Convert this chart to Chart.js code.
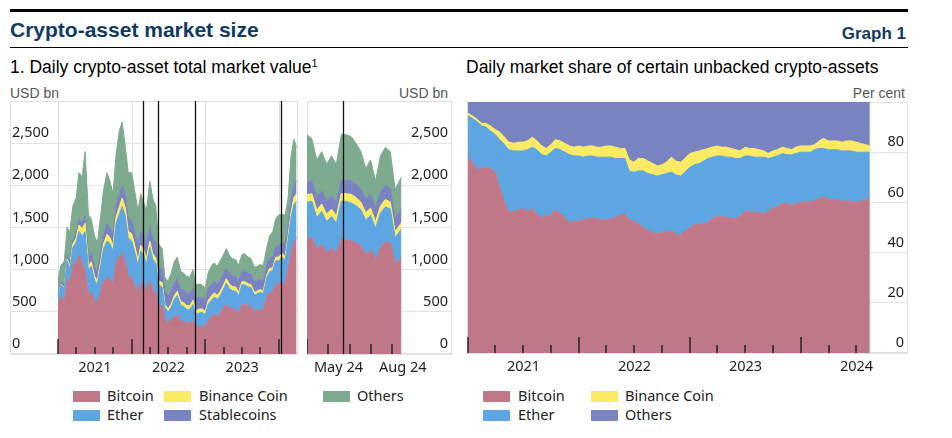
<!DOCTYPE html>
<html>
<head>
<meta charset="utf-8">
<title>Crypto-asset market size</title>
<script src="https://cdn.jsdelivr.net/npm/chart.js@4.4.3/dist/chart.umd.min.js"></script>
<style>
  body { margin: 0; background: #fff; }
  #page { position: relative; width: 952px; height: 438px; overflow: hidden; font-family: "Liberation Sans", Arial, sans-serif; }
  .t { position: absolute; white-space: nowrap; line-height: 1; }
  .rule { position: absolute; left: 10px; width: 898px; background: #000; }
  canvas { position: absolute; }
  .leg { position: absolute; font-family: "Noto Sans", sans-serif; font-size: 14.5px; color: #222; line-height: 1; white-space: nowrap; }
  .sw { position: absolute; width: 27px; height: 11px; }
</style>
</head>
<body>
<div id="page">
  <div class="rule" style="top:9px;height:3px"></div>
  <div class="t" style="left:10px;top:19px;font-size:21px;font-weight:bold;color:#103a63">Crypto-asset market size</div>
  <div class="t" style="right:46px;top:24.5px;font-size:17px;font-weight:bold;color:#103a63">Graph 1</div>
  <div class="rule" style="top:47px;height:1px"></div>
  <div class="t" style="left:10px;top:59px;font-size:17.5px">1. Daily crypto-asset total market value<span style="font-size:11px;position:relative;top:-6px">1</span></div>
  <div class="t" style="left:466px;top:59px;font-size:17.5px">Daily market share of certain unbacked crypto-assets</div>
  <div class="t" style="left:10px;top:86px;font-size:14px;color:#555">USD bn</div>
  <div class="t" style="right:504px;top:86px;font-size:14px;color:#555">USD bn</div>
  <div class="t" style="right:47px;top:86px;font-size:14px;color:#555">Per cent</div>
  <canvas id="cLeft" width="288" height="283" style="left:10px;top:101px"></canvas>
  <canvas id="cMid" width="145" height="283" style="left:307px;top:101px"></canvas>
  <canvas id="cRight" width="441" height="281" style="left:467px;top:102px"></canvas>
</div>
<script>
// ---- data : total market value, USD bn (semi-monthly readings) ----
const leftDates = [
  "2021-01-01","2021-01-15","2021-02-01","2021-02-15","2021-03-01","2021-03-15","2021-04-01","2021-04-15","2021-05-01","2021-05-15","2021-06-01","2021-06-15",
  "2021-07-01","2021-07-15","2021-08-01","2021-08-15","2021-09-01","2021-09-15","2021-10-01","2021-10-15","2021-11-01","2021-11-15","2021-12-01","2021-12-15",
  "2022-01-01","2022-01-15","2022-02-01","2022-02-15","2022-03-01","2022-03-15","2022-04-01","2022-04-15","2022-05-01","2022-05-15","2022-06-01","2022-06-15",
  "2022-07-01","2022-07-15","2022-08-01","2022-08-15","2022-09-01","2022-09-15","2022-10-01","2022-10-15","2022-11-01","2022-11-15","2022-12-01","2022-12-15",
  "2023-01-01","2023-01-15","2023-02-01","2023-02-15","2023-03-01","2023-03-15","2023-04-01","2023-04-15","2023-05-01","2023-05-15","2023-06-01","2023-06-15",
  "2023-07-01","2023-07-15","2023-08-01","2023-08-15","2023-09-01","2023-09-15","2023-10-01","2023-10-15","2023-11-01","2023-11-15","2023-12-01","2023-12-15",
  "2024-01-01","2024-01-15","2024-02-01","2024-02-15","2024-03-01","2024-03-15","2024-03-28"
];
const leftBitcoin = [
  600,680,630,900,850,1050,1100,1170,1080,1000,680,740,630,600,750,870,900,890,830,1090,1150,1200,1080,920,
  900,820,730,840,830,750,870,760,730,570,570,420,370,400,445,465,385,385,370,370,395,320,330,340,
  320,400,445,470,450,480,550,590,550,530,520,490,590,590,570,570,500,520,530,525,680,730,740,830,
  830,840,840,1020,1210,1320,1380
];
const leftEther = [
  85,140,155,205,165,210,225,285,320,450,310,300,245,225,305,375,440,420,390,450,510,550,550,450,
  440,400,325,380,350,315,395,365,340,245,225,130,130,150,205,230,190,180,160,155,190,150,155,155,
  145,190,195,205,200,205,220,250,225,220,225,200,230,230,225,220,200,195,200,190,220,245,250,275,
  275,305,275,330,410,450,430
];
const leftBinance = [
  6,7,8,20,35,40,50,75,85,100,55,55,45,45,55,65,80,70,70,80,90,100,100,85,
  85,80,60,70,62,62,73,67,63,50,52,37,35,40,45,50,45,45,45,44,53,42,47,40,
  40,48,50,49,47,53,49,52,51,49,48,38,38,38,37,35,33,33,33,32,35,38,34,39,
  47,47,46,53,62,85,90
];
const leftStable = [
  28,32,38,45,50,55,62,68,75,85,100,105,108,110,112,115,120,125,130,135,140,145,150,155,
  158,160,163,165,170,175,180,185,188,165,160,155,152,152,150,150,150,150,148,147,146,142,140,138,
  137,137,137,135,133,130,130,130,128,127,126,125,125,124,123,123,122,122,122,123,125,127,130,132,
  135,137,139,141,145,150,152
];
const leftOthers = [
  161,191,269,330,350,395,413,552,540,765,505,400,372,340,428,525,610,545,480,595,760,755,570,540,
  567,490,422,445,388,398,532,473,429,270,243,158,183,208,255,255,210,200,197,194,216,166,158,147,
  138,185,223,221,210,232,231,228,216,204,201,197,197,208,195,182,175,170,175,180,200,260,296,324,
  363,321,350,306,523,545,398
];
const leftEvents = ["2022-02-24","2022-05-09","2022-11-11","2024-01-10"];
const leftYearLines = ["2021-01-01","2022-01-01","2023-01-01","2024-01-01"];
const leftMajorTicks = ["2021-01-01","2022-01-01","2023-01-01","2024-01-01"];
const leftMinorTicks = ["2021-04-01","2021-07-01","2021-10-01","2022-04-01","2022-07-01","2022-10-01","2023-04-01","2023-07-01","2023-10-01"];
const leftLabelAt = [2021.5, 2022.5, 2023.5];
const leftLabels = ["2021","2022","2023"];

// ---- data : recent months, USD bn (weekly readings) ----
const midDates = [
  "2024-04-01","2024-04-08","2024-04-15","2024-04-22","2024-04-29","2024-05-06","2024-05-13","2024-05-20","2024-05-27","2024-06-03",
  "2024-06-10","2024-06-17","2024-06-24","2024-07-01","2024-07-08","2024-07-15","2024-07-22","2024-07-29","2024-08-05","2024-08-14"
];
const midBitcoin = [1370,1380,1250,1300,1200,1250,1200,1370,1350,1340,1320,1280,1180,1230,1120,1260,1330,1320,1070,1150];
const midEther   = [430,430,370,390,370,380,350,440,460,450,440,430,410,415,370,410,415,400,310,330];
const midBinance = [90,90,85,90,88,88,87,92,90,105,95,90,85,85,80,85,87,85,72,76];
const midStable  = [152,153,154,155,156,157,158,159,160,160,161,161,162,162,163,163,164,164,165,166];
const midOthers  = [558,497,441,465,436,475,455,539,540,525,484,439,363,408,317,432,454,431,333,378];
const midEvents = ["2024-05-23"];
const midMajorTicks = ["2024-04-01"];
const midMinorTicks = ["2024-05-01","2024-06-01","2024-07-01","2024-08-01"];
const midLabelDates = ["2024-05-16","2024-08-16"];
const midLabels = ["May 24","Aug 24"];

// ---- data : market share, per cent (semi-monthly readings) ----
const rightDates = leftDates.slice(0, 78).concat([
  "2024-04-01","2024-04-15","2024-05-01","2024-05-15","2024-06-01","2024-06-15","2024-07-01","2024-07-15","2024-08-01","2024-08-15"
]);
const rightBitcoin = [
  78,76,73,73.5,74,73.5,72,66,60,56,56.5,57,57.5,56.5,57.5,55.5,54,54.5,55,57,55.5,54,52,52.5,
  52.5,53,53.5,54,53.5,53,53,53.5,54,55,55.5,53,52.5,51.5,50,49,48,47.5,48,48.5,48.5,47.5,47,48.5,
  50,51,51.5,51.5,52,53.5,54.5,54.5,54,54,53.5,54.5,56.5,56.5,56,56,55.5,56.5,57.5,58.5,59.5,59.5,59,59.5,
  60,60.5,60,61,61.5,62,61.5,61,61,60.5,60.5,60.5,60,60.5,61,62
];
const rightEther = [
  16.5,17.5,19,17,16,15,15,19,23,25,24,23.5,23,24.5,24.5,25.5,25,24,25,24.5,25.5,26,27,26,
  26,25,25,24.5,24.5,25,25,24.5,23.5,22.5,22,19.5,19.5,21,22.5,22.5,23,23,23,23,23.5,23.5,23.5,23.5,
  24,24,24,25,25.5,24.5,24,24,24,24,24,23,22,22,22,22,22.5,21,20.5,20,20,19.5,20,20,
  20,19.5,20,20,20,19.5,19.5,20,20,20,20,20,20,19.5,19,18
];
const rightBinance = [
  1,1,1,1,1.5,2,2,3,3,3,3,3.5,3.5,3.5,4,3.5,3.5,3,3,3.5,3.5,3.5,3.5,3.5,
  4,4,4,4,4,4,4.5,4.5,4.5,4,4,4.5,4,5,5,5,4.5,4,4,4.5,6,5.5,5.5,5.5,
  5.5,5,5,4.5,4,4,4,3.5,4,3.5,3.5,3,3.5,3,3.5,3,2.5,2,2.5,2.5,2.5,2.5,2,2.5,
  2.5,2.5,2.5,2,3,4,3.5,3.5,3.5,3.5,4,4,4,3.5,3,2.5
];
const rightOthers = [
  4.5,5.5,7,8.5,8.5,9.5,11,12,14,16,16.5,16,16,15.5,14,15.5,17.5,18.5,17,15,15.5,16.5,17.5,18,
  17.5,18,17.5,17.5,18,18,17.5,17.5,18,18.5,18.5,23,24,22.5,22.5,23.5,24.5,25.5,25,24,22,23.5,24,22.5,
  20.5,20,19.5,19,18.5,18,17.5,18,18,18.5,19,19.5,18,18.5,18.5,19,19.5,20.5,19.5,19,18,18.5,19,18,
  17.5,17.5,17.5,17,15.5,14.5,15.5,15.5,15.5,16,15.5,15.5,16,16.5,17,17.5
];
const rightMajorTicks = ["2021-01-01","2022-01-01","2023-01-01","2024-01-01"];
const rightMinorTicks = ["2021-04-01","2021-07-01","2021-10-01","2022-04-01","2022-07-01","2022-10-01",
  "2023-04-01","2023-07-01","2023-10-01","2024-04-01","2024-07-01"];
const rightLabelAt = [2021.5, 2022.5, 2023.5, 2024.5];
const rightLabels = ["2021","2022","2023","2024"];

const leftNames = ["Bitcoin","Ether","Binance Coin","Stablecoins","Others"];
const rightNames = ["Bitcoin","Ether","Binance Coin","Others"];

// ---- styles ----
const C = { btc: "#c07889", eth: "#5ea6e2", bnb: "#faea64", stable: "#7a83c2", others: "#7eaa8f" };
const leftColors = [C.btc, C.eth, C.bnb, C.stable, C.others];
const rightColors = [C.btc, C.eth, C.bnb, C.stable];

function toYear(s) {
  const [y, m, d] = s.split("-").map(Number);
  const a = Date.UTC(y, 0, 1), b = Date.UTC(y + 1, 0, 1);
  return y + (Date.UTC(y, m - 1, d) - a) / (b - a);
}

Chart.defaults.font.family = "'Noto Sans', sans-serif";
Chart.defaults.font.size = 14.5;
Chart.defaults.color = "#1e1e1e";

// frame, year lines, inward tick marks and event lines
const marks = {
  id: "marks",
  beforeDatasetsDraw(chart, args, o) {
    const { ctx, chartArea: a, scales: { x } } = chart;
    ctx.save();
    ctx.strokeStyle = "#dedede";
    ctx.lineWidth = 1;
    for (const d of o.yearLines || []) {
      const px = Math.round(x.getPixelForValue(toYear(d))) + 0.5;
      ctx.beginPath(); ctx.moveTo(px, a.top); ctx.lineTo(px, a.bottom); ctx.stroke();
    }
    ctx.strokeRect(a.left + 0.5, a.top + 0.5, a.right - a.left - 1, a.bottom - a.top - 1);
    ctx.restore();
  },
  afterDatasetsDraw(chart, args, o) {
    const { ctx, chartArea: a, scales: { x } } = chart;
    ctx.save();
    ctx.strokeStyle = "#262626";
    ctx.lineWidth = 1.5;
    const tick = (d, len) => {
      const px = Math.round(x.getPixelForValue(toYear(d)));
      ctx.beginPath(); ctx.moveTo(px, a.bottom); ctx.lineTo(px, a.bottom - len); ctx.stroke();
    };
    (o.major || []).forEach(d => tick(d, o.majorLen));
    (o.minor || []).forEach(d => tick(d, o.minorLen));
    ctx.strokeStyle = "#111";
    ctx.lineWidth = 1.3;
    for (const d of o.events || []) {
      const px = Math.round(x.getPixelForValue(toYear(d))) + 0.5;
      ctx.beginPath(); ctx.moveTo(px, a.top); ctx.lineTo(px, a.bottom); ctx.stroke();
    }
    ctx.restore();
  }
};

function stack(dates, series, colors) {
  return series.map((vals, i) => ({
    data: vals.map((v, j) => ({ x: toYear(dates[j]), y: v })),
    backgroundColor: colors[i],
    borderColor: colors[i],
    borderWidth: 1,
    fill: i === 0 ? "origin" : "-1",
    pointRadius: 0,
    tension: 0
  }));
}

function noPad(s) {
  s.paddingTop = 0; s.paddingBottom = 0; s.paddingLeft = 0; s.paddingRight = 0;
}

function build(id, datasets, cfg) {
  return new Chart(document.getElementById(id), {
    type: "line",
    data: { datasets },
    plugins: [marks],
    options: {
      responsive: false,
      animation: false,
      devicePixelRatio: 1,
      events: [],
      layout: { padding: 0, autoPadding: false },
      plugins: {
        legend: { display: false },
        tooltip: { enabled: false },
        marks: cfg.marks
      },
      scales: {
        x: {
          type: "linear",
          min: cfg.xmin,
          max: cfg.xmax,
          grid: { display: false, drawTicks: false },
          border: { display: false },
          afterBuildTicks: s => { s.ticks = cfg.labelAt.map(v => ({ value: v })); },
          afterFit: s => { s.height = cfg.bottom; noPad(s); },
          ticks: {
            autoSkip: false,
            maxRotation: 0,
            padding: 5,
            callback: (v, i) => cfg.labels[i]
          }
        },
        y: {
          position: cfg.ypos,
          stacked: true,
          min: 0,
          max: cfg.ymax,
          afterFit: s => { s.width = 0; noPad(s); },
          grid: { color: "#e2e2e2", drawTicks: false },
          border: { display: false },
          ticks: {
            stepSize: cfg.ystep,
            mirror: true,
            padding: cfg.ypad,
            labelOffset: -10,
            callback: v => (v === cfg.ymax ? "" : v.toLocaleString("en-US"))
          }
        }
      }
    }
  });
}

build("cLeft",
  stack(leftDates, [leftBitcoin, leftEther, leftBinance, leftStable, leftOthers], leftColors),
  {
    xmin: 2020.3484, xmax: 2024.2578, ymax: 3000, ystep: 500, ypos: "left", ypad: 2, bottom: 30,
    labelAt: leftLabelAt, labels: leftLabels,
    marks: { yearLines: leftYearLines, events: leftEvents, major: leftMajorTicks, minor: leftMinorTicks, majorLen: 15, minorLen: 7 }
  });

// right-hand mirrored labels: a negative padding pulls them back inside the plot
build("cMid",
  stack(midDates, [midBitcoin, midEther, midBinance, midStable, midOthers], leftColors),
  {
    xmin: toYear("2024-04-01"), xmax: toYear("2024-04-01") + 145 / 256, ymax: 3000, ystep: 500, ypos: "right", ypad: -4, bottom: 30,
    labelAt: midLabelDates.map(toYear), labels: midLabels,
    marks: { events: midEvents, major: midMajorTicks, minor: midMinorTicks, majorLen: 15, minorLen: 10 }
  });

build("cRight",
  stack(rightDates, [rightBitcoin, rightEther, rightBinance, rightOthers], rightColors),
  {
    xmin: 2020.991, xmax: 2024.964, ymax: 100, ystep: 20, ypos: "right", ypad: -4, bottom: 30,
    labelAt: rightLabelAt, labels: rightLabels,
    marks: { major: rightMajorTicks, minor: rightMinorTicks, majorLen: 16, minorLen: 8 }
  });

// legends
const page = document.getElementById("page");
const legendRows = [391, 410];
function legend(names, colors, cols) {
  names.forEach((n, i) => {
    const [sx, tx, row] = cols[i];
    const sw = document.createElement("div");
    sw.className = "sw";
    sw.style.cssText = `left:${sx}px;top:${legendRows[row]}px;background:${colors[i]}`;
    const tx1 = document.createElement("div");
    tx1.className = "leg";
    tx1.style.cssText = `left:${tx}px;top:${legendRows[row] - 3}px`;
    tx1.textContent = n;
    page.appendChild(sw);
    page.appendChild(tx1);
  });
}
legend(leftNames, leftColors, [[73, 107, 0], [73, 107, 1], [164, 199, 0], [164, 199, 1], [323, 357, 0]]);
legend(rightNames, rightColors, [[483, 518, 0], [483, 518, 1], [591, 625, 0], [591, 625, 1]]);
</script>
</body>
</html>
